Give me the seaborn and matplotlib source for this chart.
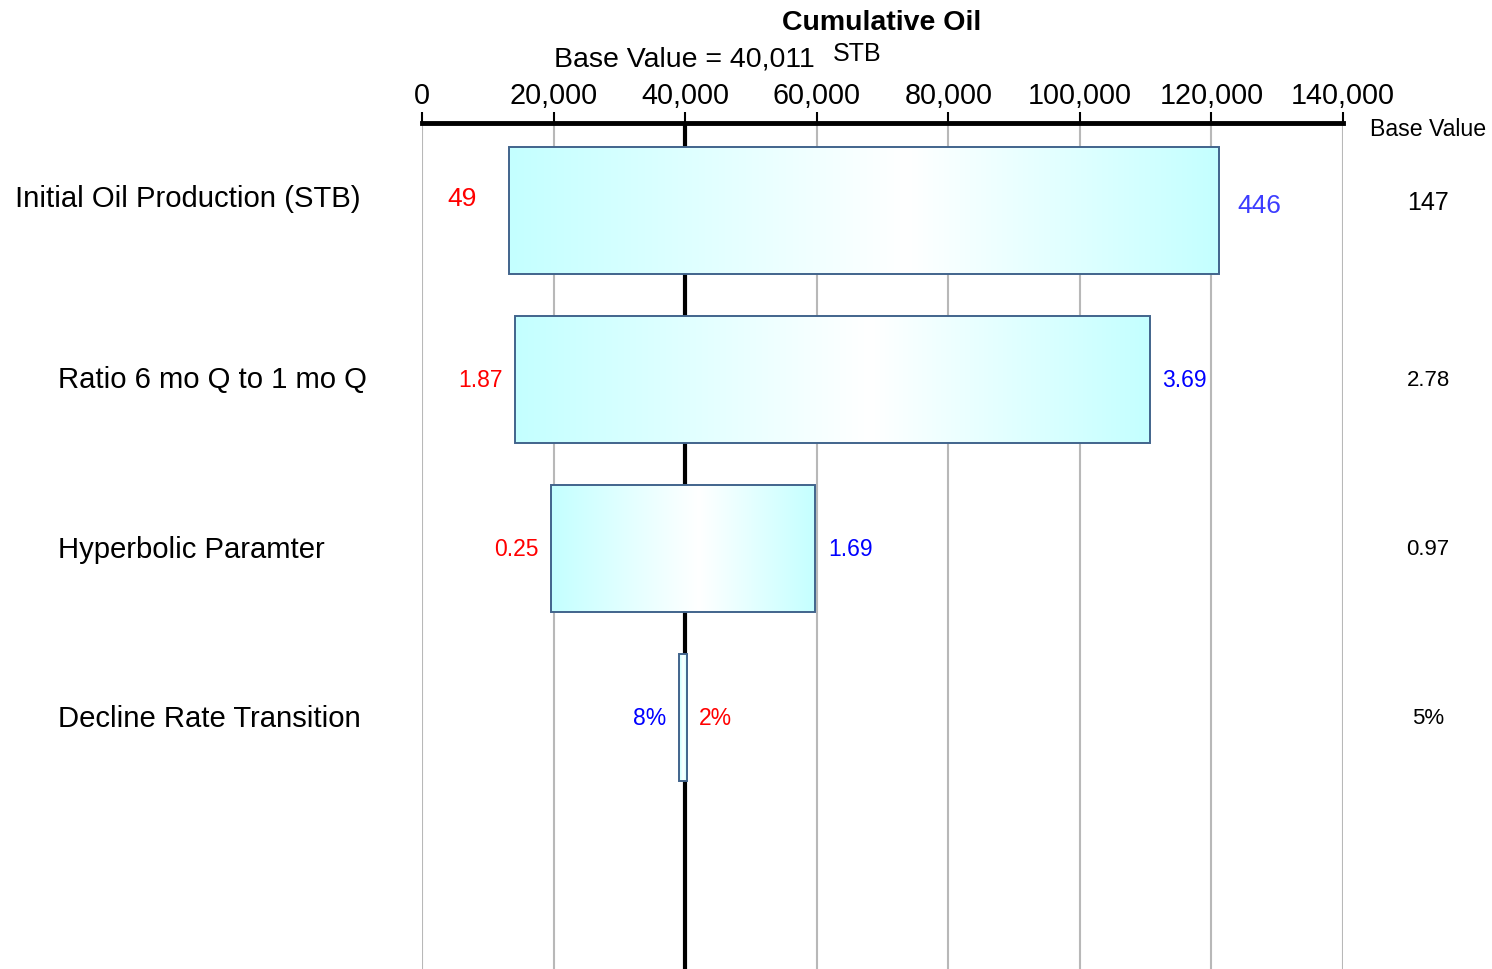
import numpy as np
import matplotlib
matplotlib.use("Agg")
import matplotlib.pyplot as plt
import pandas as pd
import seaborn as sns
from matplotlib.colors import LinearSegmentedColormap
from matplotlib.transforms import blended_transform_factory

# ---- data -------------------------------------------------------------
parameters = [
    "Initial Oil Production (STB)",
    "Ratio 6 mo Q to 1 mo Q",
    "Hyperbolic Paramter",
    "Decline Rate Transition",
]
# cumulative oil (STB) with each parameter at its low / high input value
oil_at_low_input = [13200, 14100, 19650, 40230]
oil_at_high_input = [121150, 110600, 59800, 39060]
low_input_labels = ["49", "1.87", "0.25", "2%"]
high_input_labels = ["446", "3.69", "1.69", "8%"]
base_input_labels = ["147", "2.78", "0.97", "5%"]
base_value = 40011
x_ticks = [0, 20000, 40000, 60000, 80000, 100000, 120000, 140000]

# ---- style ------------------------------------------------------------
sns.set_theme(style="white")
plt.rcParams["font.family"] = ["Liberation Sans", "DejaVu Sans"]
plt.rcParams["text.color"] = "black"
plt.rcParams["xtick.color"] = "black"
plt.rcParams["xtick.labelcolor"] = "black"

W, H = 1492, 970
fig = plt.figure(figsize=(W / 100, H / 100), dpi=100)
ax = fig.add_axes([422 / W, 0, 921 / W, 1 - 124 / H])

lo = np.minimum(oil_at_low_input, oil_at_high_input)
hi = np.maximum(oil_at_low_input, oil_at_high_input)
df = pd.DataFrame({"parameter": parameters, "start": lo, "span": hi - lo})

sns.barplot(data=df, x="span", y="parameter", orient="h", width=0.75,
            ax=ax, edgecolor="#41648c", linewidth=1.4, zorder=3)
bars = list(ax.patches)
for bar, start in zip(bars, df["start"]):
    bar.set_x(start)
    bar.set_facecolor("none")

# cyan -> white -> cyan shading inside each bar
shade = LinearSegmentedColormap.from_list(
    "shade", [(0.0, "#c4ffff"), (0.56, "#ffffff"), (1.0, "#c4ffff")])
grad = np.linspace(0, 1, 256)[None, :]
for bar in bars:
    x0, w = bar.get_x(), bar.get_width()
    y0, h = bar.get_y(), bar.get_height()
    im = ax.imshow(grad, cmap=shade, extent=[x0, x0 + w, y0 + h, y0],
                   aspect="auto", zorder=2, interpolation="bilinear")
    im.set_clip_path(bar)

ax.axvline(base_value, color="black", lw=3, zorder=1.5)

ax.set_xlim(0, 140000)
ax.set_ylim(4.485, -0.515)
ax.set_xticks(x_ticks)
ax.set_xticklabels([f"{v:,}" for v in x_ticks], fontsize=20.7)
ax.xaxis.tick_top()
ax.tick_params(axis="x", top=True, bottom=False, direction="out",
               length=8, width=1.5, color="black", labelcolor="black", pad=2)
ax.set_yticks([])
ax.set_xlabel("")
ax.set_ylabel("")
ax.xaxis.grid(True, color="#b8b8b8", lw=1.5, zorder=0)
ax.set_axisbelow(True)
for side in ("left", "right", "bottom"):
    ax.spines[side].set_visible(False)
ax.spines["top"].set_linewidth(3.5)
ax.spines["top"].set_color("black")

# ---- text -------------------------------------------------------------
fig.text(882 / W, 1 - 23 / H, "Cumulative Oil", ha="center", va="center",
         fontsize=20.5, fontweight="bold", color="black")
fig.text(684 / W, 1 - 59 / H, f"Base Value = {base_value:,}", ha="center",
         va="center", fontsize=20.5, color="black")
fig.text(857 / W, 1 - 54 / H, "STB", ha="center", va="center",
         fontsize=18, color="black")
fig.text(1428 / W, 1 - 130 / H, "Base Value", ha="center", va="center",
         fontsize=16.7, color="black")

row_text = blended_transform_factory(fig.transFigure, ax.transData)
name_x = [15, 58, 58, 58]
name_dy = [-0.07, 0, 0, 0]
for i, name in enumerate(parameters):
    ax.text(name_x[i] / W, i + name_dy[i], name, transform=row_text,
            ha="left", va="center", fontsize=21.1, color="black")
    ax.text(1428 / W, i - (0.05 if i == 0 else 0), base_input_labels[i],
            transform=row_text, ha="center", va="center",
            fontsize=18 if i == 0 else 16, color="black")

red, blue = "#ff0000", "#0000ff"
for i in range(len(parameters)):
    if oil_at_low_input[i] <= oil_at_high_input[i]:
        left_txt, left_col = low_input_labels[i], red
        right_txt, right_col = high_input_labels[i], blue
    else:
        left_txt, left_col = high_input_labels[i], blue
        right_txt, right_col = low_input_labels[i], red
    if i == 0:
        fs, lgap, rgap, ldy, rdy = 19, 23, 13, 9, 3.5
        right_col = "#3c3cff"
    else:
        fs, lgap, rgap, ldy, rdy = 16.5, 9, 9, 0, 0
    ax.annotate(left_txt, xy=(lo[i], i), xytext=(-lgap, ldy),
                textcoords="offset points", ha="right", va="center",
                fontsize=fs, color=left_col)
    ax.annotate(right_txt, xy=(hi[i], i), xytext=(rgap, rdy),
                textcoords="offset points", ha="left", va="center",
                fontsize=fs, color=right_col)

fig.savefig("out.png", dpi=100, facecolor="white")
